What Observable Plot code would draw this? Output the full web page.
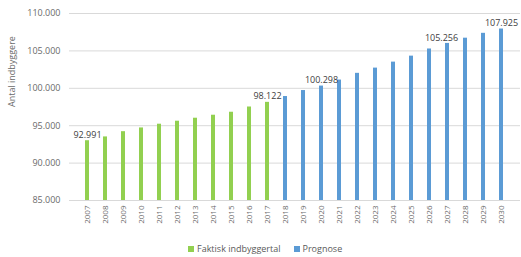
<!DOCTYPE html>
<html>
<head>
<meta charset="utf-8">
<script src="https://cdn.jsdelivr.net/npm/d3@7"></script>
<script src="https://cdn.jsdelivr.net/npm/@observablehq/plot@0.6"></script>
<style>
  html, body { margin: 0; padding: 0; background: #fff; }
  body { width: 521px; height: 257px; overflow: hidden; font-family: "Open Sans", sans-serif; }
  #legend { display: flex; align-items: center; height: 19px; margin-top: 1px; margin-left: 188px; font-size: 9px; color: #595959; }
  .sw { width: 6px; height: 6px; display: inline-block; margin-right: 3px; }
  .item { display: flex; align-items: center; margin-right: 13px; }
</style>
</head>
<body>
<div id="chart"></div>
<div id="legend"></div>
<script>
const years = [2007,2008,2009,2010,2011,2012,2013,2014,2015,2016,2017,2018,2019,2020,2021,2022,2023,2024,2025,2026,2027,2028,2029,2030];
const values = [92991,93500,94200,94700,95200,95600,96000,96400,96800,97500,98122,98900,99700,100298,101100,102000,102700,103500,104300,105256,106000,106700,107350,107925];
const series = ["Faktisk indbyggertal","Prognose"];
const lastActualYear = 2017;
const labelYears = [2007, 2017, 2020, 2030];
const shiftedLabelYears = [2026];
const yTicks = [85000,90000,95000,100000,105000,110000];
const colors = ["#92d050", "#5b9bd5"];

const da = d3.formatLocale({decimal: ",", thousands: ".", grouping: [3], currency: ["", " kr."]});
const fmt = da.format(",d");

const data = years.map((y, i) => ({year: y, value: values[i], serie: y <= lastActualYear ? series[0] : series[1]}));

const chart = Plot.plot({
  width: 521,
  height: 238,
  marginLeft: 69,
  marginRight: 1,
  marginTop: 13,
  marginBottom: 38,
  style: {fontFamily: "Open Sans, sans-serif", fontSize: "9px", color: "#595959", background: "#fff"},
  x: {type: "band", domain: years, padding: 0.76, align: 0.5, label: null},
  y: {domain: [85000, 110000], label: null},
  color: {domain: series, range: colors},
  marks: [
    Plot.gridY(yTicks, {stroke: "#d9d9d9", strokeOpacity: 1}),
    Plot.barY(data, {x: "year", y1: 85000, y2: "value", fill: "serie"}),
    Plot.text(data.filter(d => labelYears.includes(d.year)), {x: "year", y: "value", text: d => fmt(d.value), dy: -6, fill: "#404040", fontSize: 9}),
    Plot.text(data.filter(d => shiftedLabelYears.includes(d.year)), {x: "year", y: "value", text: d => fmt(d.value), dy: -11, dx: 12, fill: "#404040", fontSize: 9}),
    Plot.axisY({ticks: yTicks, tickFormat: fmt, tickSize: 0, tickPadding: 9, label: null, fill: "#6a6a6a"}),
    Plot.axisX({tickSize: 0, tickPadding: 5, tickRotate: -90, tickFormat: d => String(d), label: null, fill: "#6a6a6a", fontSize: 8}),
    Plot.text(["Antal indbyggere"], {frameAnchor: "left", dx: -57, rotate: -90, fill: "#6a6a6a", fontSize: 9})
  ]
});
document.getElementById("chart").appendChild(chart);

const legend = document.getElementById("legend");
series.forEach((s, i) => {
  const item = document.createElement("div");
  item.className = "item";
  item.innerHTML = `<span class="sw" style="background:${colors[i]}"></span><span>${s}</span>`;
  legend.appendChild(item);
});
</script>
</body>
</html>
